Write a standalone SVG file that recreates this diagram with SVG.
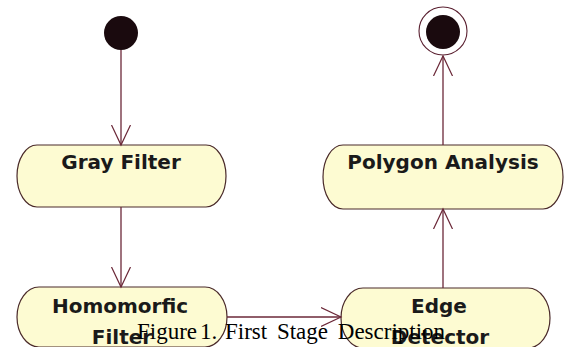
<svg xmlns="http://www.w3.org/2000/svg" width="565" height="347" viewBox="0 0 565 347">
<style>
.node{fill:#fdfbd2;stroke:#4a2a2a;stroke-width:1.2}
.lbl{font-family:"DejaVu Sans",Verdana,sans-serif;font-weight:bold;font-size:20px;fill:#1a1a1a;text-anchor:middle}
.edge{fill:none;stroke:#6b2838;stroke-width:1.3}
.cap{font-family:"Liberation Serif","Times New Roman",serif;font-size:23px;fill:#000}
</style>
<defs>
<marker id="open" viewBox="0 0 22 22" refX="20" refY="11" markerWidth="22" markerHeight="22" markerUnits="userSpaceOnUse" orient="auto">
<path d="M0,1.5 L20,11 L0,20.5" fill="none" stroke="#6b2838" stroke-width="1.2"/>
</marker>
</defs>
<rect width="565" height="347" fill="#fff"/>
<g id="start">
<circle cx="121" cy="33" r="17" fill="#1a0a0e"/>
</g>
<g id="final">
<circle cx="443" cy="31" r="24" fill="none" stroke="#5a2030" stroke-width="1.1"/>
<circle cx="443" cy="32" r="17" fill="#1a0a0e"/>
</g>
<g id="gray-filter">
<path class="node" d="M37,145 H206 A20,31 0 0 1 206,207 H37 A20,31 0 0 1 37,145 Z"/>
<text class="lbl" x="121" y="169">Gray Filter</text>
</g>
<g id="polygon-analysis">
<path class="node" d="M343,145 H543 A20,32 0 0 1 543,209 H343 A20,32 0 0 1 343,145 Z"/>
<text class="lbl" x="443" y="169">Polygon Analysis</text>
</g>
<g id="homomorfic-filter">
<path class="node" d="M39,287 H205 A22,30 0 0 1 205,347 H39 A22,30 0 0 1 39,287 Z"/>
<text class="lbl" x="120" y="313">Homomorfic</text>
<text class="lbl" x="122" y="344">Filter</text>
</g>
<g id="edge-detector">
<path class="node" d="M363,288 H528 A22,30 0 0 1 528,348 H363 A22,30 0 0 1 363,288 Z"/>
<text class="lbl" x="439" y="313">Edge</text>
<text class="lbl" x="440" y="344">Detector</text>
</g>
<g id="connectors">
<line class="edge" x1="121" y1="50" x2="121" y2="145" marker-end="url(#open)"/>
<line class="edge" x1="121" y1="207" x2="121" y2="287" marker-end="url(#open)"/>
<line class="edge" x1="227" y1="317" x2="341" y2="317" marker-end="url(#open)"/>
<line class="edge" x1="443" y1="288" x2="443" y2="209" marker-end="url(#open)"/>
<line class="edge" x1="443" y1="145" x2="443" y2="56" marker-end="url(#open)"/>
</g>
<text class="cap" y="339"><tspan x="137">Figure</tspan><tspan x="200">1.</tspan><tspan x="225" word-spacing="4">First Stage Description</tspan></text>
</svg>
